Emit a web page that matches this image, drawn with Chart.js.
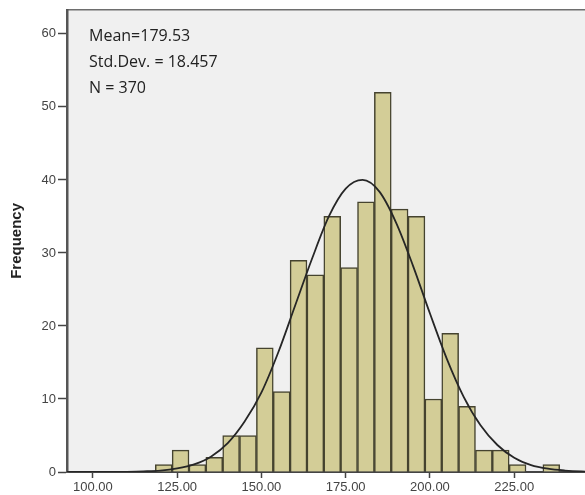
<!DOCTYPE html>
<html>
<head>
    <title>Histogram</title>
    <script src="https://cdn.jsdelivr.net/npm/chart.js"></script>
    <style>
        html, body {
            margin: 0;
            padding: 0;
            background-color: white;
        }

        .chart-container {
            width: 585px;
            height: 495px;
        }
    </style>
</head>
<body>
    <div class="chart-container">
        <canvas id="histChart"></canvas>
    </div>

    <script>
        // bin centres (width 5) and counts
        const binCentres = [121, 126, 131, 136, 141, 146, 151, 156, 161, 166, 171, 176,
                            181, 186, 191, 196, 201, 206, 211, 216, 221, 226, 231, 236];
        const binCounts = [1, 3, 1, 2, 5, 5, 17, 11, 29, 27, 35, 28,
                           37, 52, 36, 35, 10, 19, 9, 3, 3, 1, 0, 1];

        // normal curve at steps of 5
        const curveX = [90, 95, 100, 105, 110, 115, 120, 125, 130, 135, 140, 145, 150, 155, 160, 165, 170,
                        175, 180, 185, 190, 195, 200, 205, 210, 215, 220, 225, 230, 235, 240, 245, 250];
        const curveY = [0, 0, 0, 0, 0.03, 0.09, 0.2, 0.5, 1.05, 2.1, 3.95, 6.9, 10.9, 16.4, 22.8, 29.2, 35.0,
                        38.8, 40.0, 38.4, 34.1, 28.2, 21.7, 15.5, 10.3, 6.4, 3.7, 1.95, 0.95, 0.45, 0.2, 0.07, 0.03];

        const xTicks = [100, 125, 150, 175, 200, 225];
        const yTicks = [0, 10, 20, 30, 40, 50, 60];

        const statLines = ['Mean=179.53', 'Std.Dev. = 18.457', 'N = 370'];

        // grey plot background, top border and the stats text
        const plotDecor = {
            id: 'plotDecor',
            beforeDraw(chart) {
                const { ctx, chartArea } = chart;
                ctx.save();
                ctx.fillStyle = '#f0f0f0';
                ctx.fillRect(chartArea.left, chartArea.top, chartArea.right - chartArea.left, chartArea.bottom - chartArea.top);
                ctx.strokeStyle = '#6e6e6e';
                ctx.lineWidth = 1.5;
                ctx.beginPath();
                ctx.moveTo(chartArea.left, chartArea.top);
                ctx.lineTo(chartArea.right, chartArea.top);
                ctx.stroke();
                ctx.restore();
            },
            afterDraw(chart) {
                const ctx = chart.ctx;
                ctx.save();
                ctx.fillStyle = '#222';
                ctx.font = '16px "Open Sans"';
                ctx.textBaseline = 'alphabetic';
                statLines.forEach((t, i) => ctx.fillText(t, 89, 41 + i * 26));
                ctx.restore();
            }
        };

        new Chart(document.getElementById('histChart'), {
            type: 'bar',
            data: {
                datasets: [
                    {
                        type: 'line',
                        data: curveX.map((x, i) => ({ x: x, y: curveY[i] })),
                        borderColor: '#262626',
                        borderWidth: 1.8,
                        pointRadius: 0,
                        cubicInterpolationMode: 'monotone',
                        order: 0
                    },
                    {
                        type: 'bar',
                        data: binCentres.map((x, i) => ({ x: x, y: binCounts[i] })),
                        backgroundColor: '#d3cd97',
                        borderColor: '#45432f',
                        borderWidth: 1.5,
                        barPercentage: 1,
                        categoryPercentage: 1,
                        order: 1
                    }
                ]
            },
            plugins: [plotDecor],
            options: {
                responsive: true,
                maintainAspectRatio: false,
                animation: false,
                layout: {
                    padding: { top: 9, right: 0, left: 0, bottom: 0 }
                },
                plugins: {
                    legend: { display: false },
                    tooltip: { enabled: false }
                },
                scales: {
                    x: {
                        type: 'linear',
                        min: 92.3,
                        max: 246,
                        offset: false,
                        afterBuildTicks: s => { s.ticks = xTicks.map(v => ({ value: v })); },
                        afterFit: s => { s.height = 23; },
                        ticks: {
                            color: '#444',
                            font: { family: 'Liberation Sans', size: 13 },
                            padding: 2,
                            maxRotation: 0,
                            callback: v => v.toFixed(2)
                        },
                        grid: {
                            offset: false,
                            drawOnChartArea: false,
                            drawTicks: true,
                            tickLength: 6,
                            tickWidth: 1.5,
                            color: '#444'
                        },
                        border: { display: true, color: '#444', width: 2 }
                    },
                    y: {
                        min: 0,
                        max: 63.3,
                        afterBuildTicks: s => { s.ticks = yTicks.map(v => ({ value: v })); },
                        afterFit: s => { s.width = 67; },
                        ticks: {
                            color: '#444',
                            font: { family: 'Liberation Sans', size: 13 },
                            padding: 2
                        },
                        grid: {
                            drawOnChartArea: false,
                            drawTicks: true,
                            tickLength: 9,
                            tickWidth: 1.5,
                            color: '#444'
                        },
                        border: { display: true, color: '#555', width: 2.5 },
                        title: {
                            display: true,
                            text: 'Frequency',
                            color: '#222',
                            font: { family: 'Liberation Sans', size: 15, weight: 'bold' },
                            padding: { top: 8, bottom: 0 }
                        }
                    }
                }
            }
        });
    </script>
</body>
</html>
